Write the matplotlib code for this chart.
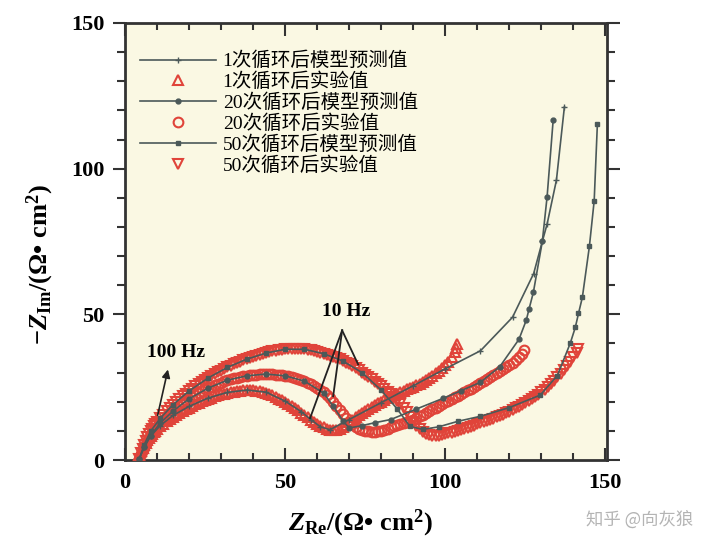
import matplotlib
matplotlib.use("Agg")
import matplotlib.pyplot as plt
from matplotlib.ticker import MultipleLocator
from matplotlib.font_manager import FontProperties

plt.rcParams['font.family'] = ['Liberation Serif', 'Noto Sans CJK SC']
plt.rcParams['mathtext.fontset'] = 'custom'
plt.rcParams['mathtext.rm'] = 'Liberation Serif:bold'
plt.rcParams['mathtext.it'] = 'Liberation Serif:italic:bold'
plt.rcParams['mathtext.bf'] = 'Liberation Serif:bold'

# ---------------- data ----------------
# 1 cycle, experimental (triangles up)
x1_exp = [4, 4.5, 5, 5.5, 6, 6.5, 7, 7.5, 8, 8.5, 9, 9.5, 10,
          11, 12, 13, 14, 15, 16, 17, 18, 19, 20, 21, 22, 23, 24, 25, 26, 27, 28, 29, 30,
          31, 32, 33, 34, 35, 36, 37, 38, 39, 40, 41, 42, 43, 44, 45, 46, 47, 48, 49, 50,
          51, 52, 53, 54, 55, 56, 57, 58, 59, 60, 61, 62, 63, 64, 65, 66, 67, 68, 69, 70,
          71, 72, 73, 74, 75, 76, 77, 78, 79, 80, 81, 82, 83, 84, 85, 86, 87, 88, 89, 90,
          91, 92, 93, 94, 95, 96, 97, 98, 99, 100, 101, 102, 103, 103.5, 103.8]
y1_exp = [0.5, 1.8, 3.0, 4.0, 5.0, 6.0, 6.8, 7.6, 8.3, 8.9, 9.5, 10.1, 10.6,
          11.6, 12.5, 13.3, 14.1, 14.8, 15.5, 16.2, 16.8, 17.4, 18.0, 18.5, 19.1, 19.6, 20.1, 20.6, 21.0, 21.4,
          21.8, 22.2, 22.5,
          22.8, 23.1, 23.3, 23.5, 23.7, 23.8, 23.9, 24.0, 24.0, 24.0, 23.8, 23.6, 23.4, 23.1, 22.7, 22.2, 21.7,
          21.1, 20.5, 19.8,
          19.1, 18.4, 17.7, 17.0, 16.2, 15.4, 14.6, 13.8, 13.1, 12.4, 11.8, 11.2, 10.8, 10.4, 10.2, 10.2, 10.6,
          11.3, 12.1, 12.9,
          13.8, 14.6, 15.4, 16.2, 16.9, 17.6, 18.3, 18.9, 19.5, 20.0, 20.6, 21.2, 21.8, 22.3, 22.8, 23.3, 23.8,
          24.2, 24.7, 25.2,
          25.7, 26.2, 26.7, 27.3, 28.0, 28.8, 29.7, 30.6, 31.6, 32.6, 33.8, 35.2, 37.0, 38.4, 39.8]

# 20 cycles, experimental (circles)
x2_exp = [4.5, 5, 5.5, 6, 6.5, 7, 7.5, 8, 8.5, 9, 9.5, 10,
          11, 12, 13, 14, 15, 16, 17, 18, 19, 20, 21, 22, 23, 24, 25, 26, 27, 28, 29, 30,
          31, 32, 33, 34, 35, 36, 37, 38, 39, 40, 41, 42, 43, 44, 45, 46, 47, 48, 49, 50,
          51, 52, 53, 54, 55, 56, 57, 58, 59, 60, 61, 62, 63, 64, 65, 66, 67, 68, 69, 70,
          71, 72, 73, 74, 75, 76, 77, 78, 79, 80, 81, 82, 83, 84, 85, 86, 87, 88, 89, 90,
          91, 92, 93, 94, 95, 96, 97, 98, 99, 100, 101, 102, 103, 104, 105, 106, 107, 108, 109, 110,
          111, 112, 113, 114, 115, 116, 117, 118, 119, 120, 121, 122, 123, 124, 124.5]
y2_exp = [0.5, 2.0, 3.3, 4.5, 5.6, 6.6, 7.5, 8.4, 9.2, 10.0, 10.7, 11.4,
          12.7, 13.9, 15.0, 16.0, 17.0, 17.8, 18.7, 19.5, 20.2, 21.0, 21.7, 22.4, 23.0, 23.6, 24.2, 24.7, 25.2,
          25.7, 26.2, 26.6,
          27.0, 27.4, 27.7, 28.0, 28.3, 28.5, 28.7, 28.9, 29.1, 29.2, 29.3, 29.4, 29.5, 29.5, 29.5, 29.4, 29.3,
          29.2, 29.1, 28.9,
          28.7, 28.5, 28.2, 27.9, 27.5, 27.1, 26.6, 26.0, 25.4, 24.8, 24.0, 23.2, 22.2, 21.2, 19.9, 18.6, 17.2,
          15.8, 14.5, 13.2,
          12.2, 11.4, 10.8, 10.3, 10.0, 9.8, 9.7, 9.7, 9.9, 10.1, 10.4, 10.8, 11.2, 11.6, 11.9, 12.3, 12.6,
          13.0, 13.4, 13.8,
          14.4, 15.0, 15.6, 16.2, 16.8, 17.4, 18.0, 18.6, 19.2, 19.8, 20.4, 21.0, 21.5, 22.1, 22.7, 23.3, 23.9,
          24.5, 25.1, 25.7,
          26.3, 27.0, 27.7, 28.4, 29.1, 29.8, 30.5, 31.2, 31.8, 32.5, 33.3, 34.2, 35.2, 36.5, 37.7]

# 50 cycles, experimental (triangles down)
x3_exp = [4.5, 5, 5.5, 6, 6.5, 7, 7.5, 8, 8.5, 9, 9.5, 10,
          11, 12, 13, 14, 15, 16, 17, 18, 19, 20, 21, 22, 23, 24, 25, 26, 27, 28, 29, 30,
          31, 32, 33, 34, 35, 36, 37, 38, 39, 40, 41, 42, 43, 44, 45, 46, 47, 48, 49, 50,
          51, 52, 53, 54, 55, 56, 57, 58, 59, 60, 61, 62, 63, 64, 65, 66, 67, 68, 69, 70,
          71, 72, 73, 74, 75, 76, 77, 78, 79, 80, 81, 82, 83, 84, 85, 86, 87, 88, 89, 90,
          91, 92, 93, 94, 95, 96, 97, 98, 99, 100, 101, 102, 103, 104, 105, 106, 107, 108, 109, 110,
          111, 112, 113, 114, 115, 116, 117, 118, 119, 120, 121, 122, 123, 124, 125, 126, 127, 128, 129, 130,
          131, 132, 133, 134, 135, 136, 137, 138, 139, 140, 141, 141.5]
y3_exp = [0.5, 2.3, 3.9, 5.3, 6.6, 7.8, 8.9, 9.9, 10.8, 11.6, 12.3, 13.0,
          14.3, 15.6, 16.8, 17.9, 19.0, 20.0, 21.0, 21.9, 22.8, 23.7, 24.5, 25.3, 26.1, 26.8, 27.5, 28.2, 28.9,
          29.5, 30.1, 30.7,
          31.3, 31.8, 32.3, 32.8, 33.3, 33.7, 34.2, 34.6, 35.0, 35.4, 35.8, 36.1, 36.4, 36.7, 37.0, 37.3, 37.5,
          37.7, 37.9, 38.0,
          38.1, 38.2, 38.2, 38.2, 38.1, 38.0, 37.8, 37.6, 37.4, 37.1, 36.8, 36.5, 36.2, 35.8, 35.4, 35.0, 34.5,
          34.0, 33.4, 32.8,
          32.2, 31.5, 30.8, 30.0, 29.3, 28.5, 27.7, 26.9, 26.1, 25.3, 24.4, 23.5, 22.5, 21.5, 20.4, 19.2, 17.8,
          16.4, 14.8, 13.2,
          11.8, 10.5, 9.6, 8.9, 8.5, 8.2, 8.2, 8.3, 8.5, 8.8, 9.1, 9.4, 9.7, 10.0, 10.3, 10.7, 11.0, 11.4,
          11.8, 12.2,
          12.6, 13.0, 13.4, 13.8, 14.2, 14.7, 15.1, 15.6, 16.1, 16.6, 17.1, 17.7, 18.3, 18.9, 19.5, 20.2, 20.9,
          21.6, 22.4, 23.2,
          24.1, 25.0, 26.1, 27.2, 28.4, 29.6, 30.9, 32.3, 33.7, 35.2, 36.8, 38.0]

# model predictions
x1_mod = [4.5, 6, 8, 11, 15, 20, 26, 32, 38, 44, 50, 55, 58, 61, 64, 70, 80, 90, 100, 111, 121, 127.6, 130.3,
          131.8, 134.7, 137.2]
y1_mod = [0.5, 4.5, 8.2, 11.8, 15.3, 18.4, 21.3, 23.2, 24.0, 23.3, 20.2, 16.6, 13.9, 11.4, 10.4, 13.9, 19.7,
          25.5, 31.3, 37.5, 49, 64, 75, 81, 96, 121.2]

x2_mod = [4.5, 6, 8, 11, 15, 20, 26, 32, 38, 44, 50, 56, 62, 65, 68, 70, 74, 78, 83, 91, 99.4, 105, 111, 117,
          123, 125.3, 126.2, 127.5, 130.3, 131.8, 133.7]
y2_mod = [0.5, 4.5, 8.4, 12.7, 16.8, 21, 24.7, 27.4, 28.9, 29.5, 28.9, 27.1, 23.0, 18.5, 13.5, 11.0, 11.8, 12.8,
          13.9, 17.5, 21.2, 23.8, 26.7, 32, 41.4, 48, 52, 57.5, 75, 90.4, 116.8]

x3_mod = [4.5, 6, 8, 11, 15, 20, 26, 32, 38, 44, 50, 56, 62, 68, 74, 80, 85, 89, 93, 98, 104, 111, 120, 129.7,
          135, 139, 140.6, 141.6, 142.8, 145, 146.5, 147.5]
y3_mod = [0.5, 5.3, 9.9, 14.3, 19, 23.7, 28.2, 31.8, 34.6, 36.7, 38, 38, 36.5, 34, 30, 24, 17.5, 11.5, 10.5,
          11.4, 13.3, 15, 18, 22.3, 29, 40, 45.5, 50.3, 55.8, 73.3, 89, 115.4]

labels = ['1次循环后模型预测值', '1次循环后实验值',
          '20次循环后模型预测值', '20次循环后实验值',
          '50次循环后模型预测值', '50次循环后实验值']

# ---------------- figure ----------------
RED = '#e0443a'
GRAY = '#4b5959'

fig = plt.figure(figsize=(7.03, 5.48), dpi=100)
ax = fig.add_axes([125 / 703, 1 - 460 / 548, (607 - 125) / 703, (460 - 23) / 548])
ax.set_facecolor('#faf8e3')

h_m1, = ax.plot(x1_mod, y1_mod, color=GRAY, lw=1.2, marker='+', ms=4, mew=1, zorder=4)
h_e1, = ax.plot(x1_exp, y1_exp, ls='none', marker='^', ms=7, mfc='none', mec=RED, mew=1.5, zorder=3)
h_m2, = ax.plot(x2_mod, y2_mod, color=GRAY, lw=1.2, marker='o', ms=3.5, zorder=4)
h_e2, = ax.plot(x2_exp, y2_exp, ls='none', marker='o', ms=7, mfc='none', mec=RED, mew=1.5, zorder=3)
h_m3, = ax.plot(x3_mod, y3_mod, color=GRAY, lw=1.2, marker='s', ms=3.5, zorder=4)
h_e3, = ax.plot(x3_exp, y3_exp, ls='none', marker='v', ms=7, mfc='none', mec=RED, mew=1.5, zorder=3)

ax.set_xlim(0, 150.5)
ax.set_ylim(0, 150)
ax.xaxis.set_major_locator(MultipleLocator(50))
ax.xaxis.set_minor_locator(MultipleLocator(10))
ax.yaxis.set_major_locator(MultipleLocator(50))
ax.yaxis.set_minor_locator(MultipleLocator(10))
ax.tick_params(axis='x', which='both', direction='in', top=True, color='#333333', width=1.5)
ax.tick_params(axis='x', which='major', length=9, pad=9)
ax.tick_params(axis='x', which='minor', length=5)
ax.tick_params(axis='y', which='both', direction='out', right=True, color='#333333', width=1.5)
ax.tick_params(axis='y', which='major', length=9, pad=6)
ax.tick_params(axis='y', which='minor', length=6)
for lab in ax.get_xticklabels() + ax.get_yticklabels():
    lab.set_fontfamily('Liberation Serif')
    lab.set_fontweight('bold')
    lab.set_fontsize(16)
for s in ax.spines.values():
    s.set_linewidth(2)
    s.set_color('#333333')

leg = ax.legend([h_m1, h_e1, h_m2, h_e2, h_m3, h_e3], labels,
                loc='upper left', bbox_to_anchor=(0.015, 0.952), frameon=False,
                prop=FontProperties(family=['Liberation Serif', 'Noto Sans CJK SC'], size=14),
                handlelength=3.9, handletextpad=0.35, labelspacing=0.12, borderaxespad=0)

# frequency annotations
ax.text(16, 37, '100 Hz', fontsize=14, fontweight='bold', ha='center', va='center', family='Liberation Serif')
ax.annotate('', xy=(13.6, 32), xytext=(10, 14.4),
            arrowprops=dict(arrowstyle='-|>', color='#222222', lw=1.2, mutation_scale=12))
ax.text(69, 51, '10 Hz', fontsize=14, fontweight='bold', ha='center', va='center', family='Liberation Serif')
apex = (67.8, 44.5)
for tip in [(57.8, 14.4), (65, 21.9), (72.8, 32.8)]:
    ax.plot([apex[0], tip[0]], [apex[1], tip[1]], color='#222222', lw=1.3, zorder=5)

# axis labels
fig.text(360 / 703, 1 - 523 / 548, r'$Z_{\rm Re}$/(Ω• cm$^2$)', fontsize=19, fontweight='bold',
         ha='center', va='center', family='Liberation Serif')
fig.text(40 / 703, 1 - 265 / 548, r'$-Z_{\rm Im}$/(Ω• cm$^2$)', fontsize=19, fontweight='bold',
         ha='center', va='center', rotation=90, family='Liberation Serif')

# watermark
fig.text(640 / 703, 1 - 520 / 548, '知乎 @向灰狼', fontsize=12.5, color='#b4b4b4',
         ha='center', va='center', family=['Noto Sans CJK SC', 'DejaVu Sans'])

fig.savefig('out.png', dpi=100, facecolor='white')
